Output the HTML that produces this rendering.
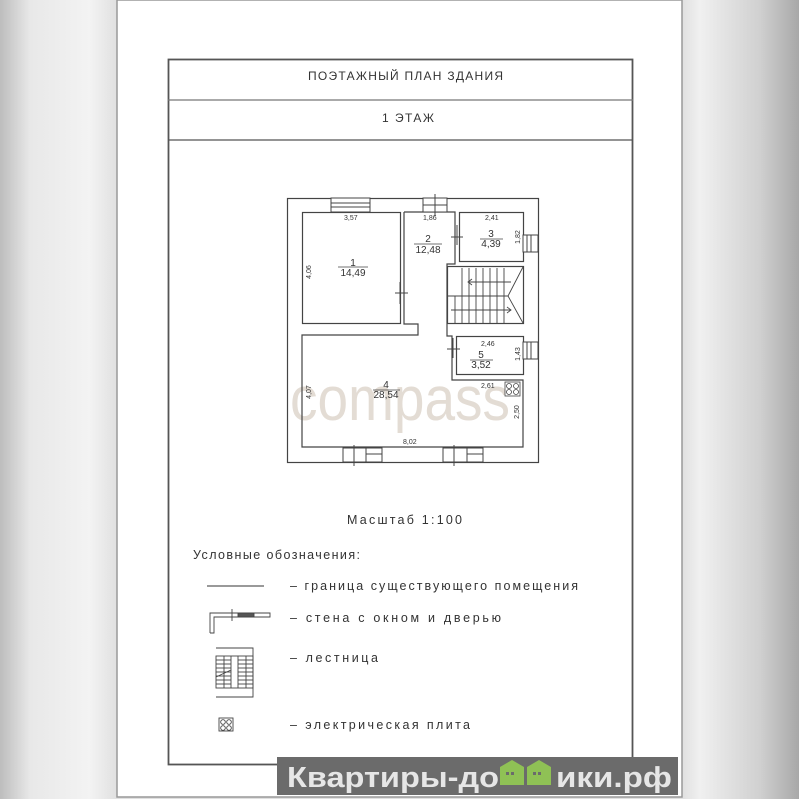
<!DOCTYPE html>
<html><head><meta charset="utf-8"><style>
html,body{margin:0;padding:0;width:799px;height:799px;overflow:hidden}
body{background:linear-gradient(90deg,#bdbdbd 0px,#e8e8e8 30px,#f3f3f3 90px,#e0e0e0 117px,#e0e0e0 682px,#f0f0f0 700px,#d0d0d0 760px,#a8a8a8 799px)}
svg{position:absolute;left:0;top:0}
text{font-family:"Liberation Sans",sans-serif;fill:#333}
</style></head><body>
<svg width="799" height="799" viewBox="0 0 799 799">
<rect x="117" y="0" width="565" height="797" fill="#fff" stroke="#999" stroke-width="1.5"/>
<rect x="168.5" y="59.5" width="464" height="705" fill="none" stroke="#555" stroke-width="1.8"/>
<line x1="168" y1="100" x2="633" y2="100" stroke="#777" stroke-width="1.3"/>
<line x1="168" y1="140" x2="633" y2="140" stroke="#555" stroke-width="1.3"/>
<text x="308" y="80" font-size="12" textLength="195" lengthAdjust="spacing">ПОЭТАЖНЫЙ  ПЛАН  ЗДАНИЯ</text>
<text x="382" y="122" font-size="12" textLength="52" lengthAdjust="spacing">1  ЭТАЖ</text>

<text x="290" y="420" font-size="62" style="fill:#e3dcd4" textLength="220" lengthAdjust="spacingAndGlyphs">compass</text>

<g fill="none" stroke="#444" stroke-width="1.2">
<rect x="287.5" y="198.5" width="251" height="264"/>
<rect x="302.5" y="212.5" width="98" height="111"/>
<polyline points="404,212 455,212 455,264 447,264 447,336 452,336 452,380 523,380 523,447 302,447 302,335 418,335 418,324 404,324 404,212"/>
<rect x="459.5" y="212.5" width="64" height="49"/>
<rect x="456.5" y="336.5" width="67" height="38"/>
<rect x="447.5" y="266.5" width="76" height="57"/>
</g>
<g fill="#fff" stroke="#444" stroke-width="1">
<rect x="331" y="198" width="39" height="14"/><line x1="331" y1="203" x2="370" y2="203"/><line x1="331" y1="207" x2="370" y2="207"/>
<rect x="423" y="198" width="24" height="14"/><line x1="435" y1="194" x2="435" y2="216"/><line x1="423" y1="205" x2="447" y2="205"/>
<rect x="523" y="235" width="15" height="17"/><line x1="527" y1="235" x2="527" y2="252"/><line x1="531" y1="235" x2="531" y2="252"/>
<rect x="523" y="342" width="15" height="17"/><line x1="527" y1="342" x2="527" y2="359"/><line x1="531" y1="342" x2="531" y2="359"/>
<rect x="343" y="448" width="39" height="14"/><line x1="354" y1="445" x2="354" y2="466"/><line x1="366" y1="448" x2="366" y2="462"/><line x1="366" y1="454" x2="382" y2="454"/>
<rect x="443" y="448" width="40" height="14"/><line x1="454" y1="445" x2="454" y2="466"/><line x1="467" y1="448" x2="467" y2="462"/><line x1="467" y1="454" x2="483" y2="454"/>
</g>
<g stroke="#444" stroke-width="1">
<line x1="400" y1="282" x2="400" y2="304"/><line x1="395" y1="293" x2="408" y2="293"/>
<line x1="457" y1="225" x2="457" y2="245"/><line x1="451" y1="237" x2="463" y2="237"/>
<line x1="453" y1="338" x2="453" y2="358"/><line x1="447" y1="349" x2="460" y2="349"/>
</g>
<g stroke="#444" stroke-width="0.9" fill="none">
<line x1="447" y1="296" x2="508" y2="296"/>
<line x1="462" y1="268" x2="462" y2="296"/>
<line x1="469" y1="268" x2="469" y2="324"/><line x1="476" y1="268" x2="476" y2="324"/><line x1="483" y1="268" x2="483" y2="324"/><line x1="490" y1="268" x2="490" y2="324"/><line x1="497" y1="268" x2="497" y2="324"/><line x1="504" y1="268" x2="504" y2="324"/>
<line x1="455" y1="296" x2="455" y2="324"/><line x1="462" y1="296" x2="462" y2="324"/>
<polyline points="523,267 508,296 523,323"/>
<line x1="468" y1="282" x2="511" y2="282"/><polyline points="472,279 468,282 472,285"/>
<line x1="451" y1="310" x2="511" y2="310"/><polyline points="507,307 511,310 507,313"/>
</g>
<g stroke="#444" stroke-width="0.8" fill="#fff">
<rect x="505" y="382" width="15" height="14"/>
<circle cx="509" cy="386" r="2.5"/><circle cx="516" cy="386" r="2.5"/><circle cx="509" cy="392" r="2.5"/><circle cx="516" cy="392" r="2.5"/>
</g>
<g font-size="7">
<text x="344" y="220">3,57</text><text x="423" y="220">1,86</text><text x="485" y="220">2,41</text>
<text x="481" y="346">2,46</text><text x="481" y="388">2,61</text><text x="403" y="444">8,02</text>
<text transform="translate(311,272) rotate(-90)" text-anchor="middle">4,06</text>
<text transform="translate(311,392) rotate(-90)" text-anchor="middle">4,07</text>
<text transform="translate(520,237) rotate(-90)" text-anchor="middle">1,82</text>
<text transform="translate(520,354) rotate(-90)" text-anchor="middle">1,43</text>
<text transform="translate(519,412) rotate(-90)" text-anchor="middle">2,50</text>
</g>
<g font-size="10" text-anchor="middle">
<text x="353" y="266">1</text><text x="353" y="276">14,49</text><line x1="338" y1="267" x2="368" y2="267" stroke="#444" stroke-width="0.7"/>
<text x="428" y="242">2</text><text x="428" y="253">12,48</text><line x1="414" y1="244" x2="442" y2="244" stroke="#444" stroke-width="0.7"/>
<text x="491" y="237">3</text><text x="491" y="247">4,39</text><line x1="480" y1="239" x2="503" y2="239" stroke="#444" stroke-width="0.7"/>
<text x="481" y="358">5</text><text x="481" y="368">3,52</text><line x1="470" y1="360" x2="493" y2="360" stroke="#444" stroke-width="0.7"/>
<text x="386" y="388">4</text><text x="386" y="398">28,54</text><line x1="373" y1="390" x2="400" y2="390" stroke="#444" stroke-width="0.7"/>
</g>
<text x="347" y="524" font-size="12.5" textLength="115" lengthAdjust="spacing">Масштаб  1:100</text>
<text x="193" y="559" font-size="12.5" textLength="167" lengthAdjust="spacing">Условные  обозначения:</text>
<g font-size="12.5">
<text x="290" y="590" textLength="288" lengthAdjust="spacing">–  граница  существующего  помещения</text>
<text x="290" y="622" textLength="211" lengthAdjust="spacing">–  стена  с  окном  и  дверью</text>
<text x="290" y="662" textLength="88" lengthAdjust="spacing">–  лестница</text>
<text x="290" y="729" textLength="180" lengthAdjust="spacing">–  электрическая  плита</text>
</g>
<line x1="207" y1="586" x2="264" y2="586" stroke="#333" stroke-width="1"/>
<g fill="none" stroke="#444" stroke-width="0.9">
<polyline points="210,633 210,613 270,613 270,617 214,617 214,633 210,633"/>
<line x1="232" y1="609" x2="232" y2="621"/>
<rect x="238" y="613" width="16" height="4" fill="#555"/>
<polyline points="216,648 253,648 253,697 216,697"/>
<rect x="216" y="656" width="37" height="32"/>
<line x1="224" y1="656" x2="224" y2="688"/><line x1="231" y1="656" x2="231" y2="688"/><line x1="238" y1="656" x2="238" y2="688"/><line x1="246" y1="656" x2="246" y2="688"/>
<line x1="216" y1="660" x2="231" y2="660"/><line x1="216" y1="664" x2="231" y2="664"/><line x1="216" y1="668" x2="231" y2="668"/><line x1="216" y1="672" x2="231" y2="672"/><line x1="216" y1="676" x2="231" y2="676"/><line x1="216" y1="680" x2="231" y2="680"/><line x1="216" y1="684" x2="231" y2="684"/>
<line x1="238" y1="660" x2="253" y2="660"/><line x1="238" y1="664" x2="253" y2="664"/><line x1="238" y1="668" x2="253" y2="668"/><line x1="238" y1="672" x2="253" y2="672"/><line x1="238" y1="676" x2="253" y2="676"/><line x1="238" y1="680" x2="253" y2="680"/><line x1="238" y1="684" x2="253" y2="684"/>
<line x1="216" y1="677" x2="231" y2="670"/>
<rect x="219" y="718" width="14" height="13"/>
<circle cx="223" cy="722" r="2.3"/><circle cx="229" cy="722" r="2.3"/><circle cx="223" cy="728" r="2.3"/><circle cx="229" cy="728" r="2.3"/>
</g>
<rect x="277" y="757" width="401" height="38" fill="#6b6b6b"/>
<text x="287" y="787" font-size="29" font-weight="bold" style="fill:#e6e6e6" textLength="212" lengthAdjust="spacingAndGlyphs">Квартиры-до</text>
<text x="556" y="787" font-size="29" font-weight="bold" style="fill:#e6e6e6" textLength="116" lengthAdjust="spacingAndGlyphs">ики.рф</text>
<g fill="#8fc155">
<polygon points="500,767 512,760 524,767 524,785 500,785"/>
<polygon points="527,767 539,760 551,767 551,785 527,785"/>
</g>
<g fill="#6b6b6b"><rect x="506" y="772" width="3" height="3"/><rect x="511" y="772" width="3" height="3"/><rect x="533" y="772" width="3" height="3"/><rect x="538" y="772" width="3" height="3"/></g>
</svg>
</body></html>
